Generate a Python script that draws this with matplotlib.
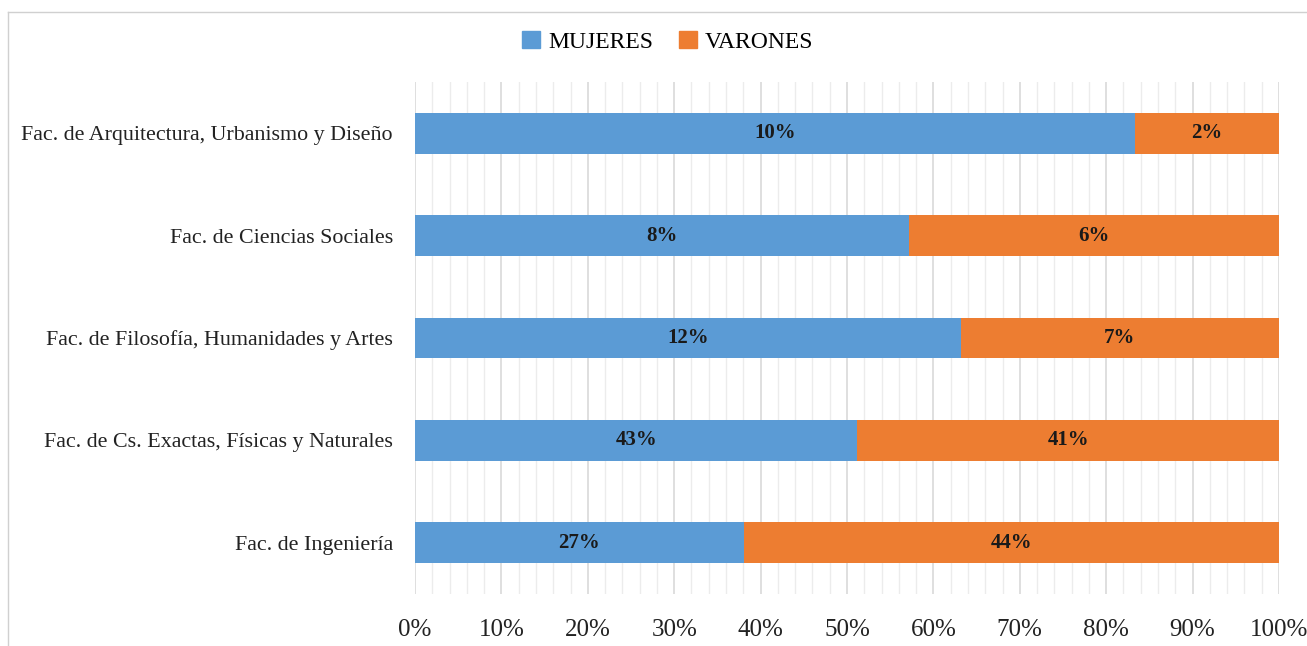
import numpy as np
import matplotlib.pyplot as plt
from matplotlib.lines import Line2D
from matplotlib.patches import Patch

plt.rcParams['font.family'] = ['Liberation Serif', 'DejaVu Serif']

facultades = [
    "Fac. de Ingeniería",
    "Fac. de Cs. Exactas, Físicas y Naturales",
    "Fac. de Filosofía, Humanidades y Artes",
    "Fac. de Ciencias Sociales",
    "Fac. de Arquitectura, Urbanismo y Diseño",
]
mujeres = [27, 43, 12, 8, 10]
varones = [44, 41, 7, 6, 2]

m = np.array(mujeres, dtype=float)
v = np.array(varones, dtype=float)
tot = m + v
m_frac = m / tot
v_frac = v / tot

blue = "#5B9BD5"
orange = "#ED7D31"

fig = plt.figure(figsize=(13.07, 6.46), dpi=100)
ax = fig.add_axes([415 / 1307, 1 - 594 / 646, 864 / 1307, 512 / 646])

y = np.arange(len(facultades))
ax.barh(y, m_frac, height=0.4, color=blue, zorder=3)
ax.barh(y, v_frac, left=m_frac, height=0.4, color=orange, zorder=3)

for i in range(len(facultades)):
    ax.text(m_frac[i] / 2, y[i], f"{mujeres[i]}%", ha="center", va="center",
            fontsize=15, fontweight="bold", color="#1a1a1a", zorder=4)
    ax.text(m_frac[i] + v_frac[i] / 2, y[i], f"{varones[i]}%", ha="center", va="center",
            fontsize=15, fontweight="bold", color="#1a1a1a", zorder=4)

ax.set_xlim(0, 1)
ax.set_ylim(-0.5, len(facultades) - 0.5)
ticks = np.arange(0, 1.01, 0.1)
ax.set_xticks(ticks)
ax.set_xticklabels([f"{int(round(t * 100))}%" for t in ticks])
ax.set_xticks(np.arange(0, 1.001, 0.02), minor=True)
ax.grid(axis="x", which="major", color="#d9d9d9", linewidth=1.2, zorder=0)
ax.grid(axis="x", which="minor", color="#ececec", linewidth=1.0, zorder=0)
ax.set_yticks(y)
ax.set_yticklabels(facultades, fontsize=15.8)
ax.tick_params(axis="x", labelsize=18, length=0, pad=18, colors="#222222")
ax.tick_params(axis="y", length=0, pad=16, colors="#222222")
ax.tick_params(which="minor", length=0)
for s in ax.spines.values():
    s.set_visible(False)

handles = [Patch(color=blue, label="MUJERES"), Patch(color=orange, label="VARONES")]
fig.legend(handles=handles, loc="center", bbox_to_anchor=(668 / 1307, 1 - 42 / 646),
           ncol=2, frameon=False, fontsize=17, handlelength=0.75, handleheight=0.75,
           handletextpad=0.35, columnspacing=1.1)

# chart frame
fig.add_artist(Line2D([8 / 1307, 8 / 1307], [0, 1 - 12 / 646], color="#d0d0d0", lw=1))
fig.add_artist(Line2D([8 / 1307, 1], [1 - 12 / 646, 1 - 12 / 646], color="#d0d0d0", lw=1))

fig.savefig("out.png", dpi=100)
